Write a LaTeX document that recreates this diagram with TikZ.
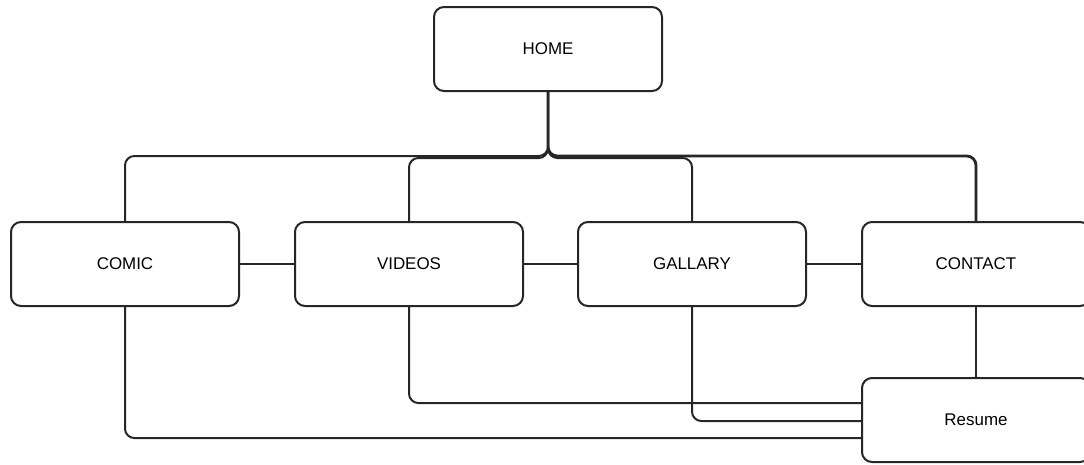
\documentclass[tikz,border=0pt]{standalone}
\usepackage{fontspec}
\setmainfont{Liberation Sans}
\usetikzlibrary{calc}
\begin{document}
\begin{tikzpicture}[x=0.75pt,y=-0.75pt,
  box/.style={draw=black!85,line width=1.5pt,rounded corners=7.5pt,fill=white,
    minimum width=171pt,minimum height=63pt,inner sep=0pt,
    font=\fontsize{12.7pt}{14pt}\selectfont},
  conn/.style={draw=black!85,line width=1.5pt,rounded corners=7pt},
  thick conn/.style={conn,line width=2.1pt}]
\useasboundingbox (0,0) rectangle (1084,464);
\clip (0,0) rectangle (1084,464);
\coordinate (bus) at (548,156);
\node[box] (home) at (548,49) {HOME};
\node[box] (comic) at (125,264) {COMIC};
\node[box] (videos) at (409,264) {VIDEOS};
\node[box] (gallary) at (692,264) {GALLARY};
\node[box] (contact) at (976,264) {CONTACT};
\node[box] (resume) at (976,420) {Resume};
\draw[conn] (home.south) -- (bus) -| (comic.north);
\draw[conn] (home.south) -- ($(bus)+(0,2)$) -| (videos.north);
\draw[conn] (home.south) -- ($(bus)+(0,2)$) -| (gallary.north);
\draw[thick conn] (home.south) -- (bus) -| (contact.north);
\draw[conn] (comic.east) -- (videos.west);
\draw[conn] (videos.east) -- (gallary.west);
\draw[conn] (gallary.east) -- (contact.west);
\draw[conn] (contact.south) -- (resume.north);
\draw[conn] (videos.south) |- ($(resume.west)+(0,-17)$);
\draw[conn] (gallary.south) |- ($(resume.west)+(0,1)$);
\draw[conn] (comic.south) |- ($(resume.west)+(0,18)$);
\end{tikzpicture}
\end{document}
